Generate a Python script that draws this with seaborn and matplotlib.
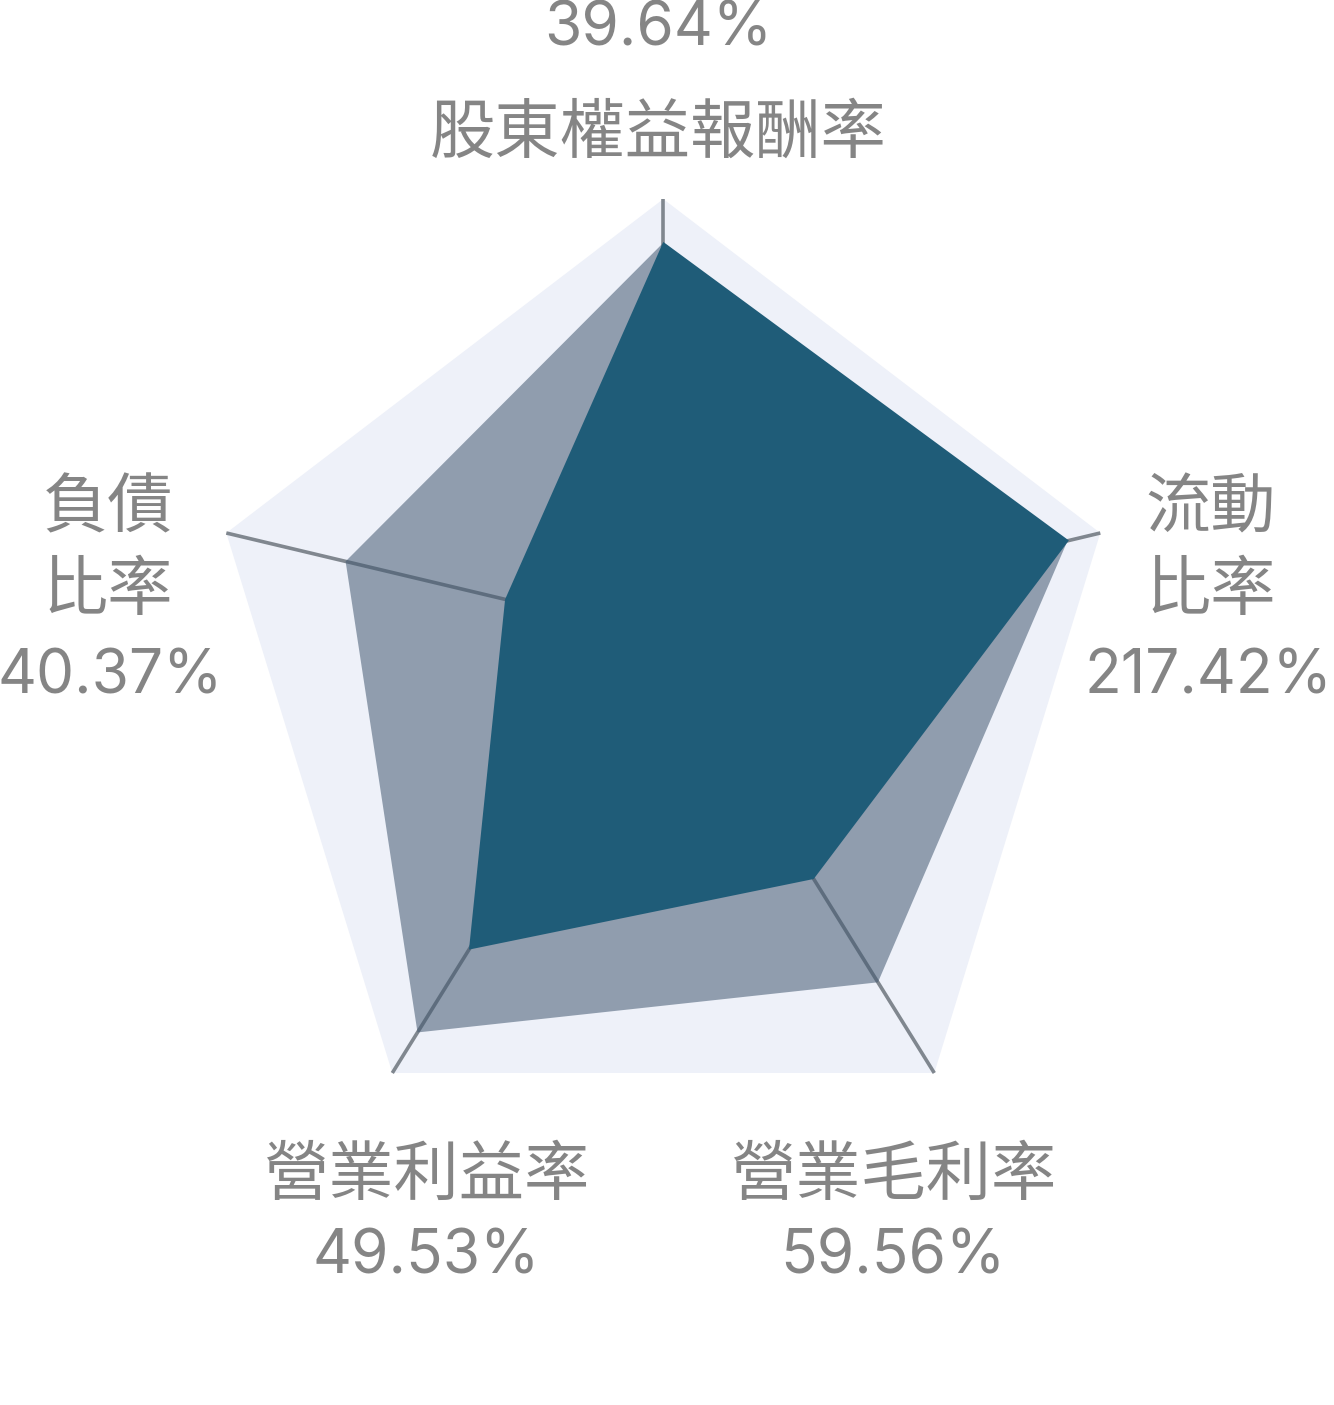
import numpy as np
import matplotlib
matplotlib.use("Agg")
import matplotlib.pyplot as plt
import seaborn as sns

# Radar data, clockwise from the top axis
categories = ["股東權益報酬率", "流動比率", "營業毛利率", "營業利益率", "負債比率"]
name_lines = [["股東權益報酬率"], ["流動", "比率"], ["營業毛利率"],
              ["營業利益率"], ["負債", "比率"]]
value_labels = ["39.64%", "217.42%", "59.56%", "49.53%", "40.37%"]
company_scores = [0.902, 0.928, 0.555, 0.717, 0.362]
peer_scores = [0.900, 0.925, 0.792, 0.907, 0.727]
outer_scores = [1.0, 1.0, 1.0, 1.0, 1.0]

# Layout of the radar frame (pixel units, y downwards)
CENTER = np.array([663.3, 637.0])
AXIS_VEC = np.array([[0, -438], [437, -104], [271, 436],
                     [-271, 436], [-437, -104]], dtype=float)

# label anchors: x centre, baselines of each line (value on top for first axis)
LABEL_X = [658, 1211, 893, 426, 108]
LABEL_Y = [[45, 153], [527, 610, 693], [1195, 1274], [1195, 1274],
           [527, 610, 693]]
# the right value line sits a little left of its name lines
VALUE_X_SHIFT = [0, -3, 0, 0, 2]

BG_COLOR = "#eef1f9"
PEER_COLOR = "#435971"
COMPANY_COLOR = "#1f5c78"
SPOKE_COLOR = "#80878f"
TEXT_COLOR = "#858585"

sns.set_theme(style="white")
plt.rcParams["font.family"] = ["Noto Sans CJK TC", "DejaVu Sans"]


def project(scores):
    """Maps radar scores onto the frame"""
    s = np.asarray(scores, dtype=float)[:, None]
    return CENTER + s * AXIS_VEC


fig = plt.figure(figsize=(13.34, 14.05), dpi=100)
ax = fig.add_axes([0, 0, 1, 1])
ax.set_xlim(0, 1334)
ax.set_ylim(1405, 0)
ax.axis("off")

# background pentagon
bg = project(outer_scores)
ax.fill(bg[:, 0], bg[:, 1], color=BG_COLOR, lw=0, zorder=1)

# spokes
origin = project([0, 0, 0, 0, 0])
for i in range(len(categories)):
    ax.plot([origin[i][0], bg[i][0]], [origin[i][1], bg[i][1]],
            color=SPOKE_COLOR, lw=2.6, solid_capstyle="butt", zorder=2)

# peer polygon (semi transparent)
peer = project(peer_scores)
ax.fill(peer[:, 0], peer[:, 1], color=PEER_COLOR, alpha=0.55, lw=0, zorder=3)

# company polygon
comp = project(company_scores)
ax.fill(comp[:, 0], comp[:, 1], color=COMPANY_COLOR, lw=0, zorder=4)

# labels
for i in range(len(categories)):
    if i == 0:
        lines = [value_labels[i]] + name_lines[i]
    else:
        lines = name_lines[i] + [value_labels[i]]
    for text, y in zip(lines, LABEL_Y[i]):
        is_value = text == value_labels[i]
        x = LABEL_X[i] + (VALUE_X_SHIFT[i] if is_value else 0)
        ax.text(x, y, text, ha="center", va="baseline",
                color=TEXT_COLOR,
                fontsize=43.5 if is_value else 47,
                family=["Inter", "DejaVu Sans"] if is_value
                else ["Noto Sans CJK TC", "DejaVu Sans"],
                zorder=5)

plt.savefig("out.png", dpi=100)
plt.close()
